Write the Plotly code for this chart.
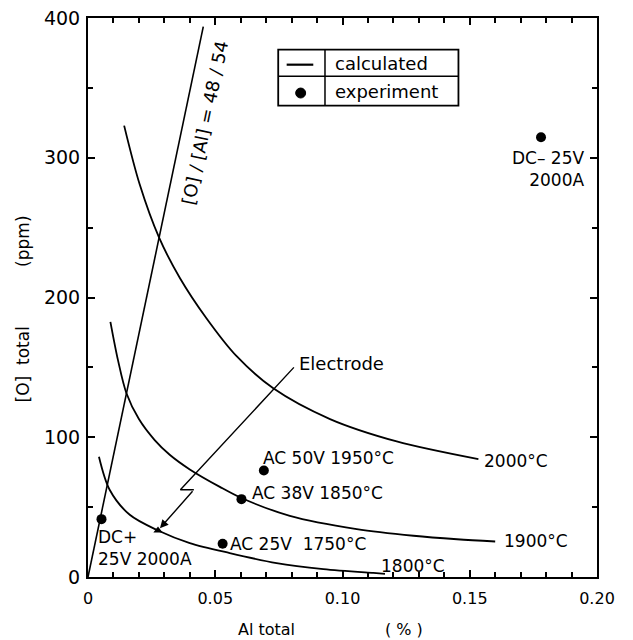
import plotly.graph_objects as go

# ---- data ----
al_1800 = [0.0043, 0.0085, 0.0164, 0.0275, 0.0400, 0.0557, 0.0741, 0.0925, 0.1121, 0.1167]
o_1800 = [86.0, 62.4, 44.5, 33.3, 24.3, 17.1, 10.0, 5.7, 2.9, 2.3]

al_1900 = [0.0088, 0.0118, 0.0151, 0.0200, 0.0262, 0.0321, 0.0400, 0.0518, 0.0603, 0.0793, 0.1056, 0.1279, 0.1450, 0.1600]
o_1900 = [182.6, 155.0, 131.5, 113.0, 98.0, 87.5, 77.0, 64.5, 56.5, 43.8, 34.3, 29.5, 27.0, 25.4]

al_2000 = [0.0142, 0.0203, 0.0279, 0.0361, 0.0466, 0.0584, 0.0728, 0.0951, 0.1213, 0.1534]
o_2000 = [323.0, 281.0, 243.0, 214.0, 185.0, 158.0, 135.0, 113.0, 97.0, 84.3]

curve_labels = ["1800°C", "1900°C", "2000°C"]
curve_label_x = [0.1145, 0.1626, 0.1548]
curve_label_y = [7.6, 26.0, 83.3]

ratio_al = [0.0, 0.0453]
ratio_o = [0.0, 393.8]
ratio_label = "[O] / [Al] = 48 / 54"

exp_al = [0.0053, 0.0529, 0.0603, 0.0691, 0.1780]
exp_o = [41.4, 23.8, 55.7, 76.2, 314.7]

exp_labels = ["DC+<br>25V 2000A", "AC 25V  1750°C", "AC 38V 1850°C", "AC 50V 1950°C", "DC– 25V<br>2000A"]
exp_label_x = [0.0033, 0.0551, 0.0636, 0.0678, 0.1958]
exp_label_y = [21.0, 23.8, 60.0, 85.0, 292.0]
exp_label_anchor = ["left", "left", "left", "left", "right"]

electrode_al = [0.0809, 0.0387, 0.0363, 0.0416]
electrode_o = [150.0, 67.1, 62.4, 62.4]
electrode_tip = (0.0275, 33.3)

x_tickvals = [0, 0.05, 0.10, 0.15, 0.20]
x_ticktext = ["0", "0.05", "0.10", "0.15", "0.20"]
y_tickvals = [0, 100, 200, 300, 400]

FONT = "DejaVu Sans"
BLACK = "#000000"

fig = go.Figure()

for xs, ys, nm in [(al_1800, o_1800, "1800°C"), (al_1900, o_1900, "1900°C"), (al_2000, o_2000, "2000°C")]:
    fig.add_trace(go.Scatter(x=xs, y=ys, mode="lines", name=nm, showlegend=False,
                             line=dict(color=BLACK, width=1.8, shape="spline", smoothing=0.9)))

fig.add_trace(go.Scatter(x=ratio_al, y=ratio_o, mode="lines", showlegend=False,
                         line=dict(color=BLACK, width=1.6)))

fig.add_trace(go.Scatter(x=electrode_al, y=electrode_o, mode="lines", showlegend=False,
                         line=dict(color=BLACK, width=1.4)))
fig.add_trace(go.Scatter(x=[electrode_tip[0]], y=[electrode_tip[1]], mode="markers", showlegend=False,
                         marker=dict(symbol="triangle-up", size=8, color=BLACK)))

fig.add_trace(go.Scatter(x=exp_al, y=exp_o, mode="markers", name="experiment", showlegend=False,
                         marker=dict(symbol="circle", size=10, color=BLACK)))

annotations = []
for t, x, y in zip(curve_labels, curve_label_x, curve_label_y):
    annotations.append(dict(x=x, y=y, xref="x", yref="y", text=t, showarrow=False,
                            xanchor="left", yanchor="middle", font=dict(family=FONT, size=17, color=BLACK)))
for t, x, y, a in zip(exp_labels, exp_label_x, exp_label_y, exp_label_anchor):
    annotations.append(dict(x=x, y=y, xref="x", yref="y", text=t, showarrow=False, align=a,
                            xanchor=a, yanchor="middle", font=dict(family=FONT, size=17, color=BLACK)))

annotations.append(dict(x=0.0459, y=325.4, xref="x", yref="y", text=ratio_label, showarrow=False,
                        textangle=-78.2, xanchor="center", yanchor="middle",
                        font=dict(family=FONT, size=18, color=BLACK)))

annotations.append(dict(x=0.0820, y=153.0, xref="x", yref="y", text="Electrode", showarrow=False,
                        xanchor="left", yanchor="middle", font=dict(family=FONT, size=18, color=BLACK)))

# arrow of the electrode pointer
annotations.append(dict(x=electrode_tip[0], y=electrode_tip[1], xref="x", yref="y",
                        ax=electrode_al[-1], ay=electrode_o[-1], axref="x", ayref="y",
                        text="", showarrow=True, arrowhead=2, arrowsize=1.2, arrowwidth=1.4,
                        arrowcolor=BLACK, standoff=3))

# axis titles
annotations.append(dict(x=0.351, y=-0.094, xref="paper", yref="paper", text="Al total", showarrow=False,
                        xanchor="center", yanchor="middle", font=dict(family=FONT, size=16, color=BLACK)))
annotations.append(dict(x=0.621, y=-0.094, xref="paper", yref="paper", text="( % )", showarrow=False,
                        xanchor="center", yanchor="middle", font=dict(family=FONT, size=16, color=BLACK)))
annotations.append(dict(x=-0.128, y=0.380, xref="paper", yref="paper", text="[O]  total", showarrow=False,
                        textangle=-90, xanchor="center", yanchor="middle", font=dict(family=FONT, size=17, color=BLACK)))
annotations.append(dict(x=-0.128, y=0.601, xref="paper", yref="paper", text="(ppm)", showarrow=False,
                        textangle=-90, xanchor="center", yanchor="middle", font=dict(family=FONT, size=17, color=BLACK)))

# legend table
lx0, lx1, ldiv = 0.3737, 0.7278, 0.4656
ly0, ly1, lmid = 0.8431, 0.9433, 0.8957
shapes = [
    dict(type="rect", xref="paper", yref="paper", x0=lx0, x1=lx1, y0=ly0, y1=ly1,
         line=dict(color=BLACK, width=1.8), fillcolor="white", layer="above"),
    dict(type="line", xref="paper", yref="paper", x0=lx0, x1=lx1, y0=lmid, y1=lmid,
         line=dict(color=BLACK, width=1.5)),
    dict(type="line", xref="paper", yref="paper", x0=ldiv, x1=ldiv, y0=ly0, y1=ly1,
         line=dict(color=BLACK, width=1.5)),
    dict(type="line", xref="paper", yref="paper", x0=0.3903, x1=0.4426, y0=0.9165, y1=0.9165,
         line=dict(color=BLACK, width=2.2)),
    dict(type="circle", xref="paper", yref="paper", x0=0.4178 - 0.0098, x1=0.4178 + 0.0098,
         y0=0.8658 - 0.0089, y1=0.8658 + 0.0089, line=dict(color=BLACK, width=1), fillcolor=BLACK),
]
annotations.append(dict(x=0.4819, y=0.9180, xref="paper", yref="paper", text="calculated", showarrow=False,
                        xanchor="left", yanchor="middle", font=dict(family=FONT, size=18, color=BLACK)))
annotations.append(dict(x=0.4819, y=0.8680, xref="paper", yref="paper", text="experiment", showarrow=False,
                        xanchor="left", yanchor="middle", font=dict(family=FONT, size=18, color=BLACK)))

axis_common = dict(showline=True, linecolor=BLACK, linewidth=2, mirror="ticks", ticks="inside",
                   tickcolor=BLACK, tickwidth=1.5, ticklen=7, showgrid=False, zeroline=False,
                   automargin=False, ticklabeloverflow="allow")

fig.update_layout(
    width=633, height=640,
    margin=dict(l=88, r=36, t=18, b=63),
    paper_bgcolor="white", plot_bgcolor="white",
    font=dict(family=FONT, color=BLACK),
    showlegend=False,
    xaxis=dict(range=[0, 0.2], tickvals=x_tickvals, ticktext=x_ticktext,
               tickfont=dict(family=FONT, size=16, color=BLACK),
               minor=dict(dtick=0.01, ticks="inside", ticklen=5, tickcolor=BLACK, tickwidth=1.5),
               ticklabelstandoff=6, **axis_common),
    yaxis=dict(range=[0, 400], tickvals=y_tickvals,
               tickfont=dict(family=FONT, size=19, color=BLACK),
               minor=dict(dtick=50, ticks="inside", ticklen=5, tickcolor=BLACK, tickwidth=1.5),
               ticklabelstandoff=2, **axis_common),
    annotations=annotations,
    shapes=shapes,
)

# remove the default 8px page margin so the 633x640 figure fills the window exactly
fig.write_html("out.html", config={"displayModeBar": False},
               post_script="document.body.style.margin='0px';")
